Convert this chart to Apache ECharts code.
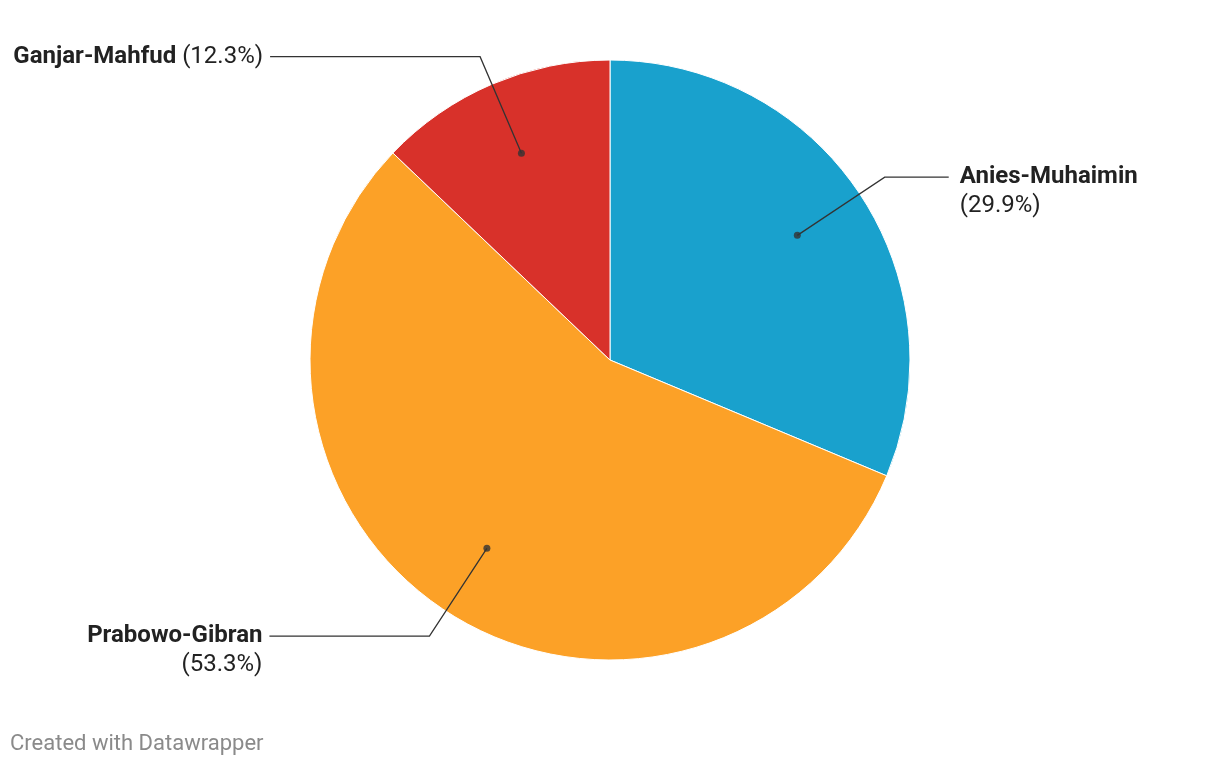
<!DOCTYPE html>
<html>
<head>
<meta charset="utf-8">
<script src="https://cdn.jsdelivr.net/npm/echarts@6/dist/echarts.min.js"></script>
<style>
html,body{margin:0;padding:0;background:#fff;}
#chart{width:1220px;height:766px;}
</style>
</head>
<body>
<div id="chart"></div>
<script>
// Data
const categories = ['Anies-Muhaimin', 'Prabowo-Gibran', 'Ganjar-Mahfud'];
const shares = [29.9, 53.3, 12.3];
const colors = ['#19a1cd', '#fca127', '#d8312a'];

// label layout (not data)
const lineLen2 = [64, 160, 210];
const twoLine = [true, true, false];
const labelGap = [11, 7, 7];

const total = shares.reduce((a, b) => a + b, 0);
let cum = 0;
const dotData = shares.map(v => { const mid = cum + v / 2; cum += v; return [0.75, mid]; });

const chart = echarts.init(document.getElementById('chart'));
const font = 'Roboto, "Noto Sans", sans-serif';
const LH = 29;

const labelData = categories.map((c, i) => ({
  name: c,
  value: shares[i],
  labelLine: { length: 105, length2: lineLen2[i] },
  label: {
    padding: twoLine[i] ? [LH, 0, 0, 0] : 0,
    distanceToLabelLine: labelGap[i],
    formatter: p => twoLine[i] ? '{b|' + p.name + '}\n{p|(' + p.value + '%)}' : '{b|' + p.name + '}{p|\u00a0(' + p.value + '%)}'
  }
}));

chart.setOption({
  animation: false,
  polar: { center: [610, 360], radius: 300 },
  angleAxis: { type: 'value', min: 0, max: total, startAngle: 90, clockwise: true, show: false },
  radiusAxis: { type: 'value', min: 0, max: 1, show: false },
  graphic: [{
    type: 'text', left: 10, top: 733,
    style: { text: 'Created with Datawrapper', font: '22px ' + font, fill: '#8a8a8a' }
  }],
  series: [
    {
      type: 'pie',
      z: 1,
      center: [610, 360],
      radius: 300,
      startAngle: 90,
      clockwise: true,
      silent: true,
      label: { show: false },
      labelLine: { show: false },
      itemStyle: { borderColor: '#ffffff', borderWidth: 1 },
      data: categories.map((c, i) => ({ name: c, value: shares[i], itemStyle: { color: colors[i] } }))
    },
    {
      type: 'pie',
      z: 4,
      center: [610, 360],
      radius: 225,
      startAngle: 90,
      clockwise: true,
      silent: true,
      avoidLabelOverlap: false,
      itemStyle: { color: 'rgba(0,0,0,0)' },
      label: {
        show: true,
        position: 'outside',
        color: '#222',
        rich: {
          b: { fontFamily: font, fontSize: 24, fontWeight: 'bold', color: '#222', lineHeight: LH },
          p: { fontFamily: font, fontSize: 24, color: '#222', lineHeight: LH }
        }
      },
      labelLine: { show: true, lineStyle: { color: '#333', width: 1.3 } },
      data: labelData
    },
    {
      type: 'scatter',
      coordinateSystem: 'polar',
      symbol: 'circle',
      symbolSize: 7,
      silent: true,
      itemStyle: { color: '#333' },
      data: dotData,
      z: 6
    }
  ]
});
</script>
</body>
</html>
